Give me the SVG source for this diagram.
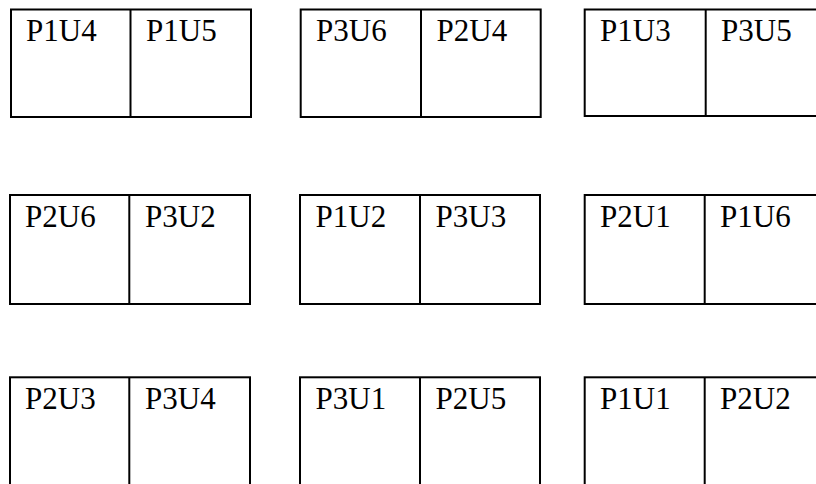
<svg xmlns="http://www.w3.org/2000/svg" width="816" height="484" viewBox="0 0 816 484">
<style>
.b{fill:#fff;stroke:#000;stroke-width:2}
.d{stroke:#000;stroke-width:2}
text{font-family:"Liberation Serif","Times New Roman",serif;font-size:31px;fill:#000}
</style>
<rect x="0" y="0" width="816" height="484" fill="#fff"/>
<g id="r1c1"><rect class="b" x="11" y="9.5" width="240" height="107.5"/><line class="d" x1="130.5" y1="9.5" x2="130.5" y2="117"/><text x="26" y="41">P1U4</text><text x="146" y="41">P1U5</text></g>
<g id="r1c2"><rect class="b" x="300.7" y="9.5" width="240" height="107.5"/><line class="d" x1="421" y1="9.5" x2="421" y2="117"/><text x="316" y="41">P3U6</text><text x="436.5" y="41">P2U4</text></g>
<g id="r1c3"><rect class="b" x="584.7" y="9.5" width="240" height="106.5"/><line class="d" x1="705.7" y1="9.5" x2="705.7" y2="116"/><text x="600" y="41">P1U3</text><text x="721" y="41">P3U5</text></g>
<g id="r2c1"><rect class="b" x="10" y="195" width="240" height="109"/><line class="d" x1="129.3" y1="195" x2="129.3" y2="304"/><text x="25" y="226.7">P2U6</text><text x="145" y="226.7">P3U2</text></g>
<g id="r2c2"><rect class="b" x="300" y="195" width="240" height="109"/><line class="d" x1="420" y1="195" x2="420" y2="304"/><text x="315.5" y="226.7">P1U2</text><text x="435.5" y="226.7">P3U3</text></g>
<g id="r2c3"><rect class="b" x="584.7" y="195" width="240" height="109"/><line class="d" x1="704.7" y1="195" x2="704.7" y2="304"/><text x="600" y="226.7">P2U1</text><text x="720" y="226.7">P1U6</text></g>
<g id="r3c1"><rect class="b" x="10" y="377.3" width="240" height="120"/><line class="d" x1="129.3" y1="377.3" x2="129.3" y2="497"/><text x="25" y="409.3">P2U3</text><text x="145" y="409.3">P3U4</text></g>
<g id="r3c2"><rect class="b" x="300" y="377.3" width="240" height="120"/><line class="d" x1="420" y1="377.3" x2="420" y2="497"/><text x="315.5" y="409.3">P3U1</text><text x="435.5" y="409.3">P2U5</text></g>
<g id="r3c3"><rect class="b" x="584.7" y="377.3" width="240" height="120"/><line class="d" x1="704.7" y1="377.3" x2="704.7" y2="497"/><text x="600" y="409.3">P1U1</text><text x="720" y="409.3">P2U2</text></g>
<g id="connectors"></g>
</svg>
